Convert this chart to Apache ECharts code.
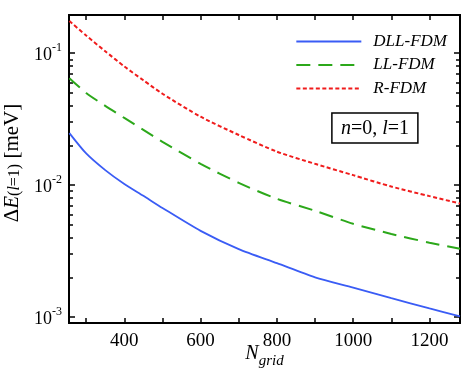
<!DOCTYPE html>
<html>
<head>
<meta charset="utf-8">
<script src="https://cdn.jsdelivr.net/npm/echarts@6/dist/echarts.min.js"></script>
<style>
html,body{margin:0;padding:0;background:#fff;}
#c{width:470px;height:378px;}
</style>
</head>
<body>
<div id="c"></div>
<script>
// ---- data ----
const nGrid = [256, 300, 350, 400, 450, 500, 600, 700, 800, 900, 1000, 1100, 1200, 1280];
const dllFdm = [0.0248, 0.0174, 0.0130, 0.0102, 0.00829, 0.00671, 0.00450, 0.00327, 0.00256, 0.00200, 0.00167, 0.00139, 0.00116, 0.00101];
const llFdm  = [0.0647, 0.0500, 0.0399, 0.0323, 0.0262, 0.0213, 0.0145, 0.0104, 0.00787, 0.00639, 0.00509, 0.00426, 0.00366, 0.00329];
const rFdm   = [0.1757, 0.1362, 0.1036, 0.0794, 0.0624, 0.0493, 0.0330, 0.0240, 0.01794, 0.0145, 0.0119, 0.00975, 0.00825, 0.00725];
const seriesNames = ['DLL-FDM', 'LL-FDM', 'R-FDM'];
const xTicks = [300, 400, 500, 600, 700, 800, 900, 1000, 1100, 1200];
const xLabels = [400, 600, 800, 1000, 1200];
const yMajor = [0.001, 0.01, 0.1];
const yMinor = [0.002,0.003,0.004,0.005,0.006,0.007,0.008,0.009,0.02,0.03,0.04,0.05,0.06,0.07,0.08,0.09];
const xRange = [255, 1280];
const yRange = [0.0009, 0.195];

const FONT = 'Liberation Serif';
const pair = (xs, ys) => xs.map((x, i) => [x, ys[i]]);

const axisLineStyle = { show: true, onZero: false, lineStyle: { color: '#000', width: 2 } };

function xAxis(pos, labels) {
  return {
    type: 'value', position: pos, min: xRange[0], max: xRange[1],
    axisLine: axisLineStyle,
    axisTick: { show: true, inside: true, length: 5, lineStyle: { color: '#000', width: 1.5 }, customValues: xTicks },
    axisLabel: labels ? { show: true, customValues: xLabels, formatter: v => String(v), fontFamily: FONT, fontSize: 19, color: '#000', margin: 9 } : { show: false },
    splitLine: { show: false },
    name: labels ? '{n|N}{g|grid}' : '',
    nameLocation: 'middle', nameGap: 21, nameMoveOverlap: false,
    nameTextStyle: {
      rich: {
        n: { fontFamily: FONT, fontStyle: 'italic', fontSize: 20, color: '#000', verticalAlign: 'top', lineHeight: 22 },
        g: { fontFamily: FONT, fontStyle: 'italic', fontSize: 15, color: '#000', verticalAlign: 'bottom', lineHeight: 25 }
      }
    }
  };
}

function yAxis(pos, ticks, len, labels) {
  return {
    type: 'log', logBase: 10, position: pos, min: yRange[0], max: yRange[1],
    axisLine: axisLineStyle,
    axisTick: { show: true, inside: true, length: len, lineStyle: { color: '#000', width: 1.5 }, customValues: ticks },
    axisLabel: labels ? {
      show: true, customValues: yMajor, margin: 7,
      formatter: v => '{b|10}{s|' + Math.round(Math.log10(v)) + '}',
      rich: {
        b: { fontFamily: FONT, fontSize: 18, color: '#000', lineHeight: 22, verticalAlign: 'bottom' },
        s: { fontFamily: FONT, fontSize: 12, color: '#000', lineHeight: 22, verticalAlign: 'top' }
      }
    } : { show: false },
    splitLine: { show: false },
    minorTick: { show: false },
    name: labels ? '{d|Δ}{e|E}{p|(}{l|l}{p|=1)}{d| [meV]}' : '',
    nameLocation: 'middle', nameRotate: 90, nameGap: 46, nameMoveOverlap: false,
    nameTextStyle: {
      padding: [0, 0, 0, 12],
      rich: {
        d: { fontFamily: FONT, fontSize: 21, color: '#000', verticalAlign: 'bottom', lineHeight: 27 },
        e: { fontFamily: FONT, fontStyle: 'italic', fontSize: 21, color: '#000', verticalAlign: 'bottom', lineHeight: 27 },
        p: { fontFamily: FONT, fontSize: 16, color: '#000', verticalAlign: 'bottom', lineHeight: 32 },
        l: { fontFamily: FONT, fontStyle: 'italic', fontSize: 16, color: '#000', verticalAlign: 'bottom', lineHeight: 32 }
      }
    }
  };
}

const chart = echarts.init(document.getElementById('c'), null, { renderer: 'canvas' });
chart.setOption({
  animation: false,
  backgroundColor: '#fff',
  grid: { left: 69, right: 10, top: 15, bottom: 55, containLabel: false, outerBoundsMode: 'none' },
  xAxis: [xAxis('bottom', true), xAxis('top', false)],
  yAxis: [
    yAxis('left', yMajor, 6, true),
    yAxis('left', yMinor, 4, false),
    yAxis('right', yMajor, 6, false),
    yAxis('right', yMinor, 4, false)
  ],
  title: {
    text: '{i|n}{r|=0, }{i|l}{r|=1}',
    right: 52, top: 113,
    borderColor: '#000', borderWidth: 1.5,
    padding: [6, 9, 4, 9],
    textStyle: {
      fontWeight: 'normal',
      rich: {
        i: { fontFamily: FONT, fontStyle: 'italic', fontWeight: 'normal', fontSize: 20, color: '#000' },
        r: { fontFamily: FONT, fontWeight: 'normal', fontSize: 20, color: '#000' }
      }
    }
  },
  legend: {
    orient: 'vertical', right: 18, top: 28,
    itemWidth: 65, itemHeight: 14, itemGap: 6.5,
    data: seriesNames,
    itemStyle: { opacity: 0, borderWidth: 0 },
    textStyle: { fontFamily: FONT, fontStyle: 'italic', fontSize: 17, color: '#000', padding: [0, 0, 0, 7] }
  },
  series: [
    { name: seriesNames[0], type: 'line', data: pair(nGrid, dllFdm), showSymbol: false, symbol: 'none', smooth: 0.25,
      lineStyle: { color: '#3a5cf5', width: 1.8, type: 'solid' }, itemStyle: { color: '#3a5cf5' } },
    { name: seriesNames[1], type: 'line', data: pair(nGrid, llFdm), showSymbol: false, symbol: 'none', smooth: 0.25,
      lineStyle: { color: '#2ca81a', width: 2, type: [14, 8] }, itemStyle: { color: '#2ca81a' } },
    { name: seriesNames[2], type: 'line', data: pair(nGrid, rFdm), showSymbol: false, symbol: 'none', smooth: 0.25,
      lineStyle: { color: '#f01c1c', width: 2, type: [4, 2.5] }, itemStyle: { color: '#f01c1c' } }
  ]
});
</script>
</body>
</html>
